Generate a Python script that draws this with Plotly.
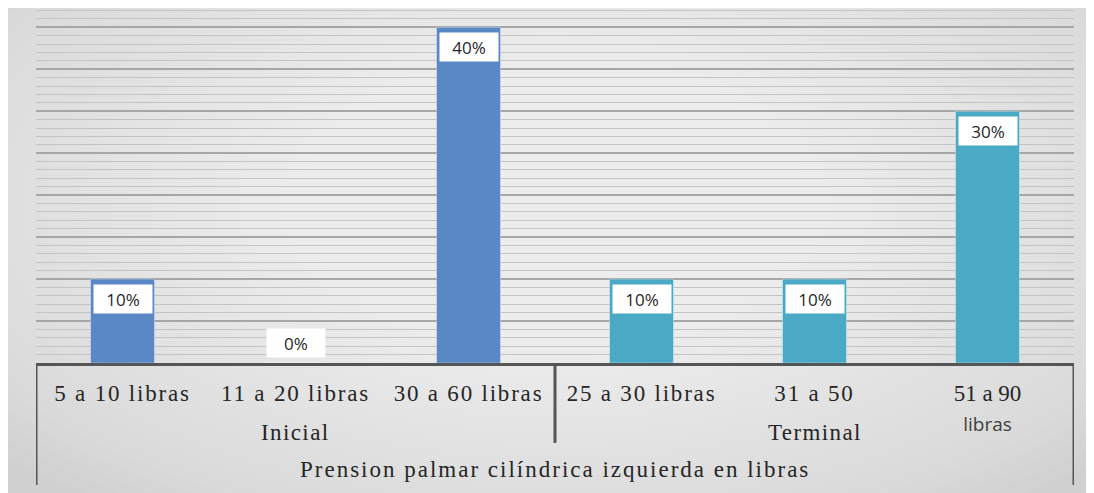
import plotly.graph_objects as go

# data
categories = ["5 a 10 libras", "11 a 20 libras", "30 a 60 libras",
              "25 a 30 libras", "31 a 50", "51 a 90"]
tick_labels = ["5 a 10 libras", "11 a 20 libras", "30 a 60 libras",
               "25 a 30 libras", "31 a 50",
               "51 a 90<br><span style='font-family:Open Sans;font-size:19px;color:#404040'>libras</span>"]
values = [10, 0, 40, 10, 10, 30]
groups = ["Inicial", "Inicial", "Inicial", "Terminal", "Terminal", "Terminal"]
group_names = ["Inicial", "Terminal"]
axis_title = "Prension palmar cilíndrica izquierda en libras"

colors = {"Inicial": "#5a88c6", "Terminal": "#4aaac6"}
serif = dict(family="Liberation Serif", size=23, color="#262626")


def stretch(s, sp=1.8):
    # the original text is a bit wider than the font, so add some letter spacing
    return f"<span style='letter-spacing:{sp}px'>{s}</span>"


fig = go.Figure()
fig.add_trace(
    go.Bar(
        x=categories,
        y=values,
        width=0.37,
        marker={"color": [colors[g] for g in groups],
                "line": {"color": "rgba(255,255,255,0.35)", "width": 1}},
        hoverinfo="skip",
    )
)

# white label boxes
annotations = []
for cat, v in zip(categories, values):
    annotations.append(dict(
        x=cat, y=v, xref="x", yref="y",
        text=f"{v}%", showarrow=False,
        yshift=-20 if v > 0 else 20,
        bgcolor="white", width=56, height=26,
        font=dict(family="Open Sans", size=17, color="#262626"),
    ))

# group labels centred under each group of categories
for name in group_names:
    idx = [i for i, g in enumerate(groups) if g == name]
    annotations.append(dict(
        x=(idx[0] + idx[-1]) / 2, y=0, xref="x", yref="paper",
        yanchor="middle", yshift=-69, text=stretch(name, 1.4), showarrow=False,
        font=serif,
    ))
annotations.append(dict(
    x=0.5, y=0, xref="paper", yref="paper", yanchor="middle", yshift=-106,
    text=stretch(axis_title, 2.0), showarrow=False, font=serif,
))

# soft radial-ish background
shapes = []
n = 30
for i in range(n):
    f = i / n
    hw = 0.72 - 0.62 * f
    hh = 1.05 - 0.85 * f
    shapes.append(dict(
        type="circle", xref="paper", yref="paper", layer="below",
        x0=0.5 - hw, x1=0.5 + hw, y0=0.45 - hh, y1=0.45 + hh,
        fillcolor="rgba(255,255,255,0.05)", line={"width": 0},
    ))

# bracket lines of the category axis
n_first = groups.count("Inicial")
line_style = {"color": "#555555", "width": 3}
shapes += [
    dict(type="line", xref="x", yref="paper", x0=-0.5, x1=-0.5,
         y0=0, y1=-0.344, line=line_style),
    dict(type="line", xref="x", yref="paper", x0=n_first - 0.5, x1=n_first - 0.5,
         y0=0, y1=-0.225, line=line_style),
    dict(type="line", xref="x", yref="paper", x0=len(categories) - 0.5,
         x1=len(categories) - 0.5, y0=0, y1=-0.344, line=line_style),
]

fig.update_layout(
    width=1086,
    height=485,
    margin={"l": 28, "r": 20, "t": 0, "b": 130},
    paper_bgcolor="#d0d0d0",
    plot_bgcolor="rgba(0,0,0,0)",
    showlegend=False,
    annotations=annotations,
    shapes=shapes,
    xaxis=dict(
        type="category",
        tickvals=categories,
        ticktext=[stretch(t) if "<br>" not in t else t for t in tick_labels],
        ticks="outside", ticklen=7, tickcolor="rgba(0,0,0,0)",
        showline=True, linecolor="#555555", linewidth=3,
        showgrid=False,
        tickfont=serif,
        range=[-0.5, len(categories) - 0.5],
    ),
    yaxis=dict(
        range=[0, 42.3],
        dtick=5,
        showticklabels=False,
        showgrid=True, gridcolor="#a6a6a6", gridwidth=1.5,
        zeroline=False,
        minor=dict(dtick=1, showgrid=True, gridcolor="#c4c4c4", gridwidth=1),
    ),
)

fig.write_html("out.html")
